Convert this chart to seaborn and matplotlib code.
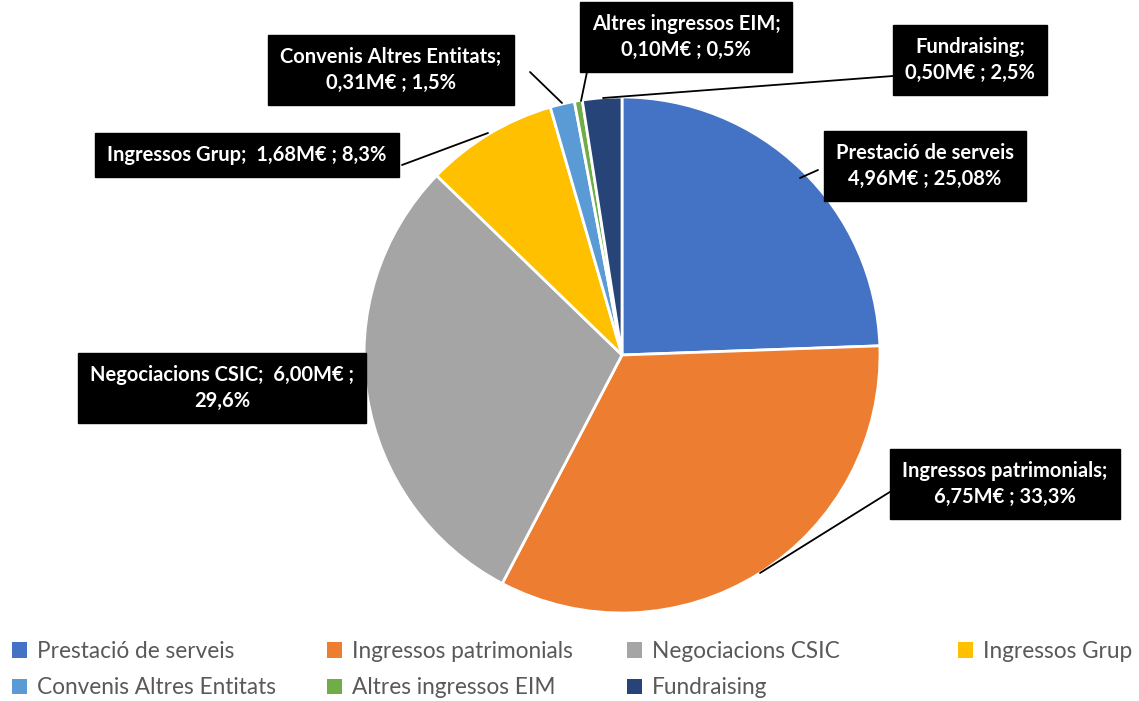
import matplotlib
matplotlib.use("Agg")
import matplotlib.pyplot as plt
from matplotlib.patches import Patch
import seaborn as sns

sns.set_theme(style="white")
plt.rcParams["font.family"] = ["Lato", "DejaVu Sans"]

categories = ["Prestació de serveis", "Ingressos patrimonials", "Negociacions CSIC",
              "Ingressos Grup", "Convenis Altres Entitats", "Altres ingressos EIM", "Fundraising"]
values = [4.96, 6.75, 6.00, 1.68, 0.31, 0.10, 0.50]
labels = ["Prestació de serveis\n4,96M€ ; 25,08%",
          "Ingressos patrimonials;\n6,75M€ ; 33,3%",
          "Negociacions CSIC;  6,00M€ ;\n29,6%",
          "Ingressos Grup;  1,68M€ ; 8,3%",
          "Convenis Altres Entitats;\n0,31M€ ; 1,5%",
          "Altres ingressos EIM;\n0,10M€ ; 0,5%",
          "Fundraising;\n0,50M€ ; 2,5%"]
colors = sns.color_palette(["#4472C4", "#ED7D31", "#A5A5A5", "#FFC000",
                            "#5B9BD5", "#70AD47", "#264478"])

# label box centres and leader lines (pixel coords, y from top)
box_pos = [(925, 166), (1005, 484), (222, 388), (247, 155), (391, 70), (686, 37), (970, 60)]
leaders = [((818, 170), (800, 178)), ((893, 490), (760, 573)), None,
           ((402, 165), (488, 133)), ((530, 72), (562, 103)),
           ((587, 72), (581, 101)), ((893, 76), (603, 98))]

W, H = 1139, 701
fig = plt.figure(figsize=(W / 100, H / 100), dpi=100)
ax = fig.add_axes([0, 0, 1, 1])

wedges, _ = ax.pie(values, colors=colors, startangle=90, counterclock=False,
                   center=(622, H - 355), radius=258,
                   wedgeprops=dict(edgecolor="white", linewidth=2))
ax.set_xlim(0, W)
ax.set_ylim(0, H)
ax.set_aspect("auto")
ax.axis("off")

for lbl, (x, y), ln in zip(labels, box_pos, leaders):
    if ln is not None:
        (x1, y1), (x2, y2) = ln
        ax.plot([x1, x2], [H - y1, H - y2], color="black", lw=1.3, zorder=3)
    ax.text(x, H - y, lbl, ha="center", va="center", color="white",
            fontsize=14.5, fontweight="bold", linespacing=1.35, zorder=4,
            bbox=dict(boxstyle="square,pad=0.6", fc="black", ec="black"))

# legend laid out in four columns like the spreadsheet legend
col_x = [12, 327, 627, 958]
cols = [[0, 4], [1, 5], [2, 6], [3]]
for cx, idx in zip(col_x, cols):
    handles = [Patch(facecolor=colors[i], edgecolor="none") for i in idx]
    leg = fig.legend(handles, [categories[i] for i in idx],
                     loc="upper left", bbox_to_anchor=(cx / W, 1 - 641 / H),
                     frameon=False, borderpad=0, borderaxespad=0,
                     handlelength=0.65, handleheight=0.65, handletextpad=0.45,
                     labelspacing=0.68,
                     prop={"family": ["Lato", "DejaVu Sans"], "size": 16.3})
    for t in leg.get_texts():
        t.set_color("#595959")

fig.savefig("out.png", dpi=100)
